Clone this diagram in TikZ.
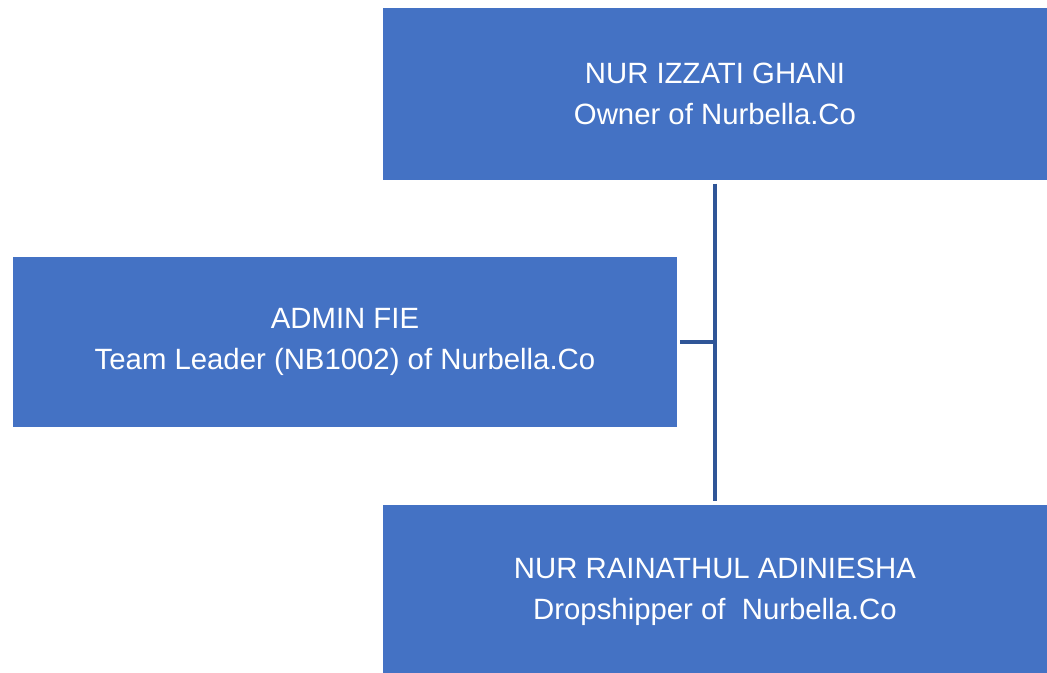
\documentclass[tikz,border=0pt]{standalone}
\usepackage{fontspec}
\setmainfont{Liberation Sans}
\usepackage{tikz}
\definecolor{boxblue}{HTML}{4472C4}
\definecolor{lineblue}{HTML}{2F5597}
\tikzset{
    orgbox/.style={fill=boxblue, text=white, align=center, inner sep=0pt,
        minimum width=498pt, font=\fontsize{22}{30.5}\selectfont},
    link/.style={lineblue, line width=2.3pt}
}

\begin{document}
\begin{tikzpicture}[x=0.75pt, y=-0.75pt]
    % fix the page to the size of the reference
    \useasboundingbox (0,0) rectangle (1047,673);

    % Owner at the top
    \node [orgbox, minimum height=129pt] (owner) at (715,94)
        {NUR IZZATI GHANI\\Owner of Nurbella.Co};
    % Team leader on the left
    \node [orgbox, minimum height=128pt] (leader) at (345,342)
        {ADMIN FIE\\Team Leader (NB1002) of Nurbella.Co};
    % Dropshipper at the bottom
    \node [orgbox, minimum height=130pt] (dropship) at (715,592)
        {NUR RAINATHUL ADINIESHA\\Dropshipper of\ \ Nurbella.Co};

    % connector between the boxes
    \coordinate (junction) at (leader.east -| owner.south);
    \draw [link] ([yshift=-2.5pt]owner.south) -- ([yshift=3pt]dropship.north);
    \draw [link] ([xshift=2pt]leader.east) -- (junction);
\end{tikzpicture}
\end{document}
